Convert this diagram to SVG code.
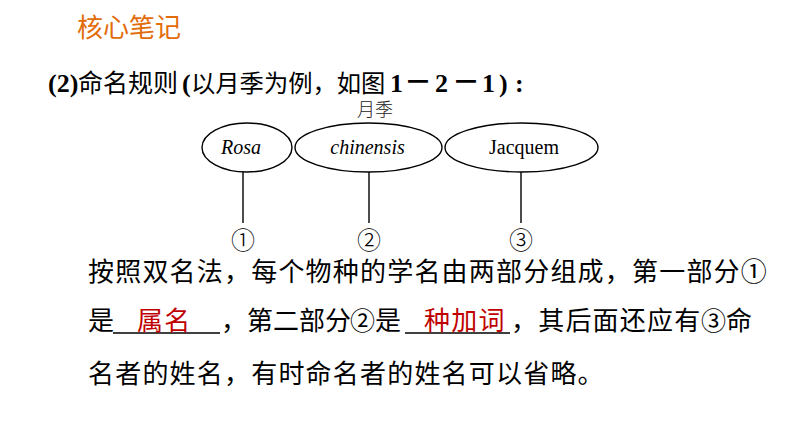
<svg xmlns="http://www.w3.org/2000/svg" width="794" height="447" viewBox="0 0 794 447">
<style>
.cjk{font-family:"Noto Sans CJK SC","Noto Sans",sans-serif;}
.body{font-family:"Noto Sans CJK SC",sans-serif;font-size:26px;letter-spacing:1.2px;fill:#000;}
.red{fill:#C00000;}
.tight{letter-spacing:0;}
.circ{font-size:25px;letter-spacing:0;}
.bs{font-family:"Liberation Serif","Times New Roman",serif;font-weight:bold;font-size:26px;}
.lat{font-family:"Liberation Serif","Times New Roman",serif;font-size:20px;text-anchor:middle;fill:#000;}
.node ellipse{fill:#fff;stroke:#000;stroke-width:1.4;}
.conn line{stroke:#000;stroke-width:1.4;}
.num{font-family:"Noto Sans CJK SC",sans-serif;font-size:24px;font-weight:300;text-anchor:middle;fill:#000;}
.ul{stroke:#000;stroke-width:1.3;}
</style>
<rect width="794" height="447" fill="#fff"/>
<text x="77" y="37" class="cjk" font-size="26" fill="#E36C0A">核心笔记</text>

<g id="heading">
<text x="48" y="92" class="bs">(2)</text>
<text x="78" y="92" class="cjk" font-size="25" fill="#000">命名规则</text>
<text x="182" y="92" class="bs">(</text>
<text x="191" y="92" class="cjk" font-size="24.3" fill="#000">以月季为例，如图</text>
<text x="390" y="92" class="bs">1</text>
<text x="404" y="92" class="cjk" font-weight="bold" font-size="28" fill="#000">－</text>
<text x="435" y="92" class="bs">2</text>
<text x="452" y="92" class="cjk" font-weight="bold" font-size="28" fill="#000">－</text>
<text x="482" y="92" class="bs">1</text>
<text x="499" y="92" class="bs">)</text>
<text x="515" y="92" class="bs">:</text>
</g>

<text x="375" y="116" class="cjk" font-size="18" font-weight="300" text-anchor="middle" fill="#222">月季</text>

<g id="conn" class="conn">
<line x1="243" y1="172" x2="243" y2="223"/>
<line x1="369" y1="172" x2="369" y2="223"/>
<line x1="521" y1="172" x2="521" y2="223"/>
</g>

<g id="rosa" class="node">
<ellipse cx="247" cy="147.5" rx="45" ry="24.5"/>
<text x="241" y="154" class="lat" font-style="italic">Rosa</text>
</g>
<g id="chinensis" class="node">
<ellipse cx="368.5" cy="147.5" rx="73.5" ry="24.5"/>
<text x="367.5" y="154" class="lat" font-style="italic">chinensis</text>
</g>
<g id="jacquem" class="node">
<ellipse cx="521.5" cy="147.5" rx="76.5" ry="24.5"/>
<text x="524" y="154" class="lat">Jacquem</text>
</g>

<g id="n1"><text x="243" y="249" class="num">①</text></g>
<g id="n2"><text x="369" y="249" class="num">②</text></g>
<g id="n3"><text x="521" y="249" class="num">③</text></g>

<g id="paragraph">
<text x="88" y="281" class="body">按照双名法，每个物种的学名由两部分组成，第一部分①</text>
<text x="88" y="330" class="body">是</text>
<line x1="113" y1="333" x2="220" y2="333" class="ul"/>
<text x="137" y="330" class="body red">属名</text>
<text x="221" y="330" class="body tight">，第二部分</text>
<text x="350" y="330" class="body circ">②</text>
<text x="375" y="330" class="body">是</text>
<line x1="405" y1="333" x2="510" y2="333" class="ul"/>
<text x="424" y="330" class="body red">种加词</text>
<text x="511" y="330" class="body">，其后面还应有</text>
<text x="701" y="330" class="body circ">③</text>
<text x="726" y="330" class="body">命</text>
<text x="88" y="383" class="body">名者的姓名，有时命名者的姓名可以省略。</text>
</g>
</svg>
